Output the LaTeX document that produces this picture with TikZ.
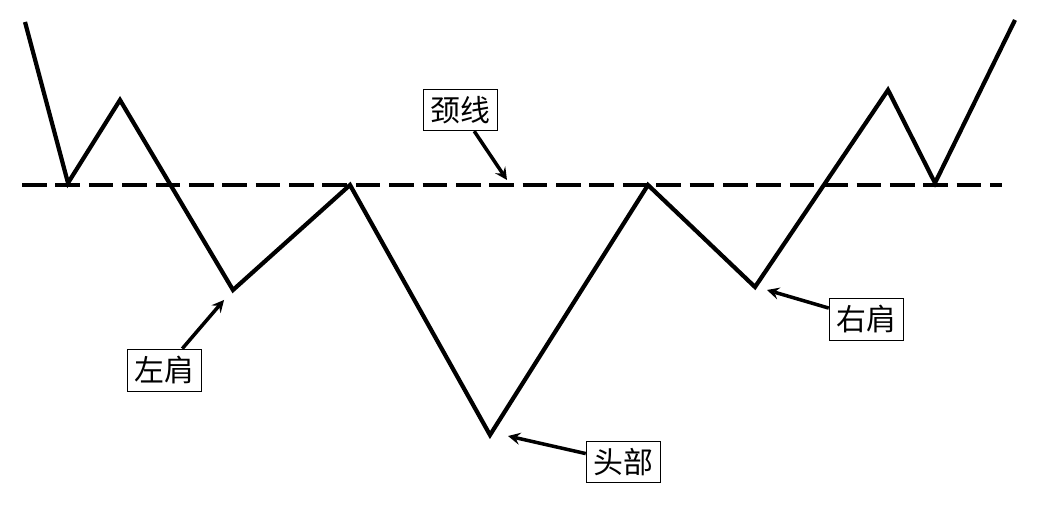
\documentclass[tikz,border=0pt]{standalone}
\usepackage{fontspec}
\setmainfont{Noto Sans CJK SC}
\usetikzlibrary{arrows,positioning}

\begin{document}
\begin{tikzpicture}[x=0.02cm, y=-0.02cm]
% Define styles
\tikzstyle{label} = [rectangle, draw=black, thin, fill=white, inner sep=4pt, font=\fontsize{17}{20}\selectfont]
\tikzstyle{curve} = [line width=2.4pt, line join=miter]
\tikzstyle{neck} = [line width=2.4pt, dash pattern=on 14pt off 5pt]
\tikzstyle{arrow} = [line width=2pt, ->, >=stealth]

\useasboundingbox (0,0) rectangle (1042,526);

% Price curve
\coordinate (p0) at (25,22);
\coordinate (p1) at (68,183);
\coordinate (p2) at (120,100);
\coordinate (lshoulder) at (233,290);
\coordinate (p4) at (350,185);
\coordinate (head) at (490,435);
\coordinate (p6) at (648,185);
\coordinate (rshoulder) at (755,287);
\coordinate (p8) at (888,90);
\coordinate (p9) at (935,183);
\coordinate (p10) at (1015,20);
\draw [curve] (p0) -- (p1) -- (p2) -- (lshoulder) -- (p4) -- (head) -- (p6) -- (rshoulder) -- (p8) -- (p9) -- (p10);

% Neckline
\coordinate (nl) at (22,185);
\coordinate (nr) at (1002,185);
\coordinate (ntip) at (507,180);
\draw [neck] (nl) -- (nr);

% Labels
\node (neckl) [label] at (460,110) {颈线};
\node (leftl) [label] at (164,370) {左肩};
\node (rightl) [label] at (866,319) {右肩};
\node (headl) [label] at (623,462) {头部};

\coordinate (lt) at (224,300);
\coordinate (rt) at (767,290);
\coordinate (ht) at (508,436);

% Draw arrows
\draw [arrow] (neckl) -- (ntip);
\draw [arrow] (leftl) -- (lt);
\draw [arrow] (rightl) -- (rt);
\draw [arrow] (headl) -- (ht);
\end{tikzpicture}
\end{document}
